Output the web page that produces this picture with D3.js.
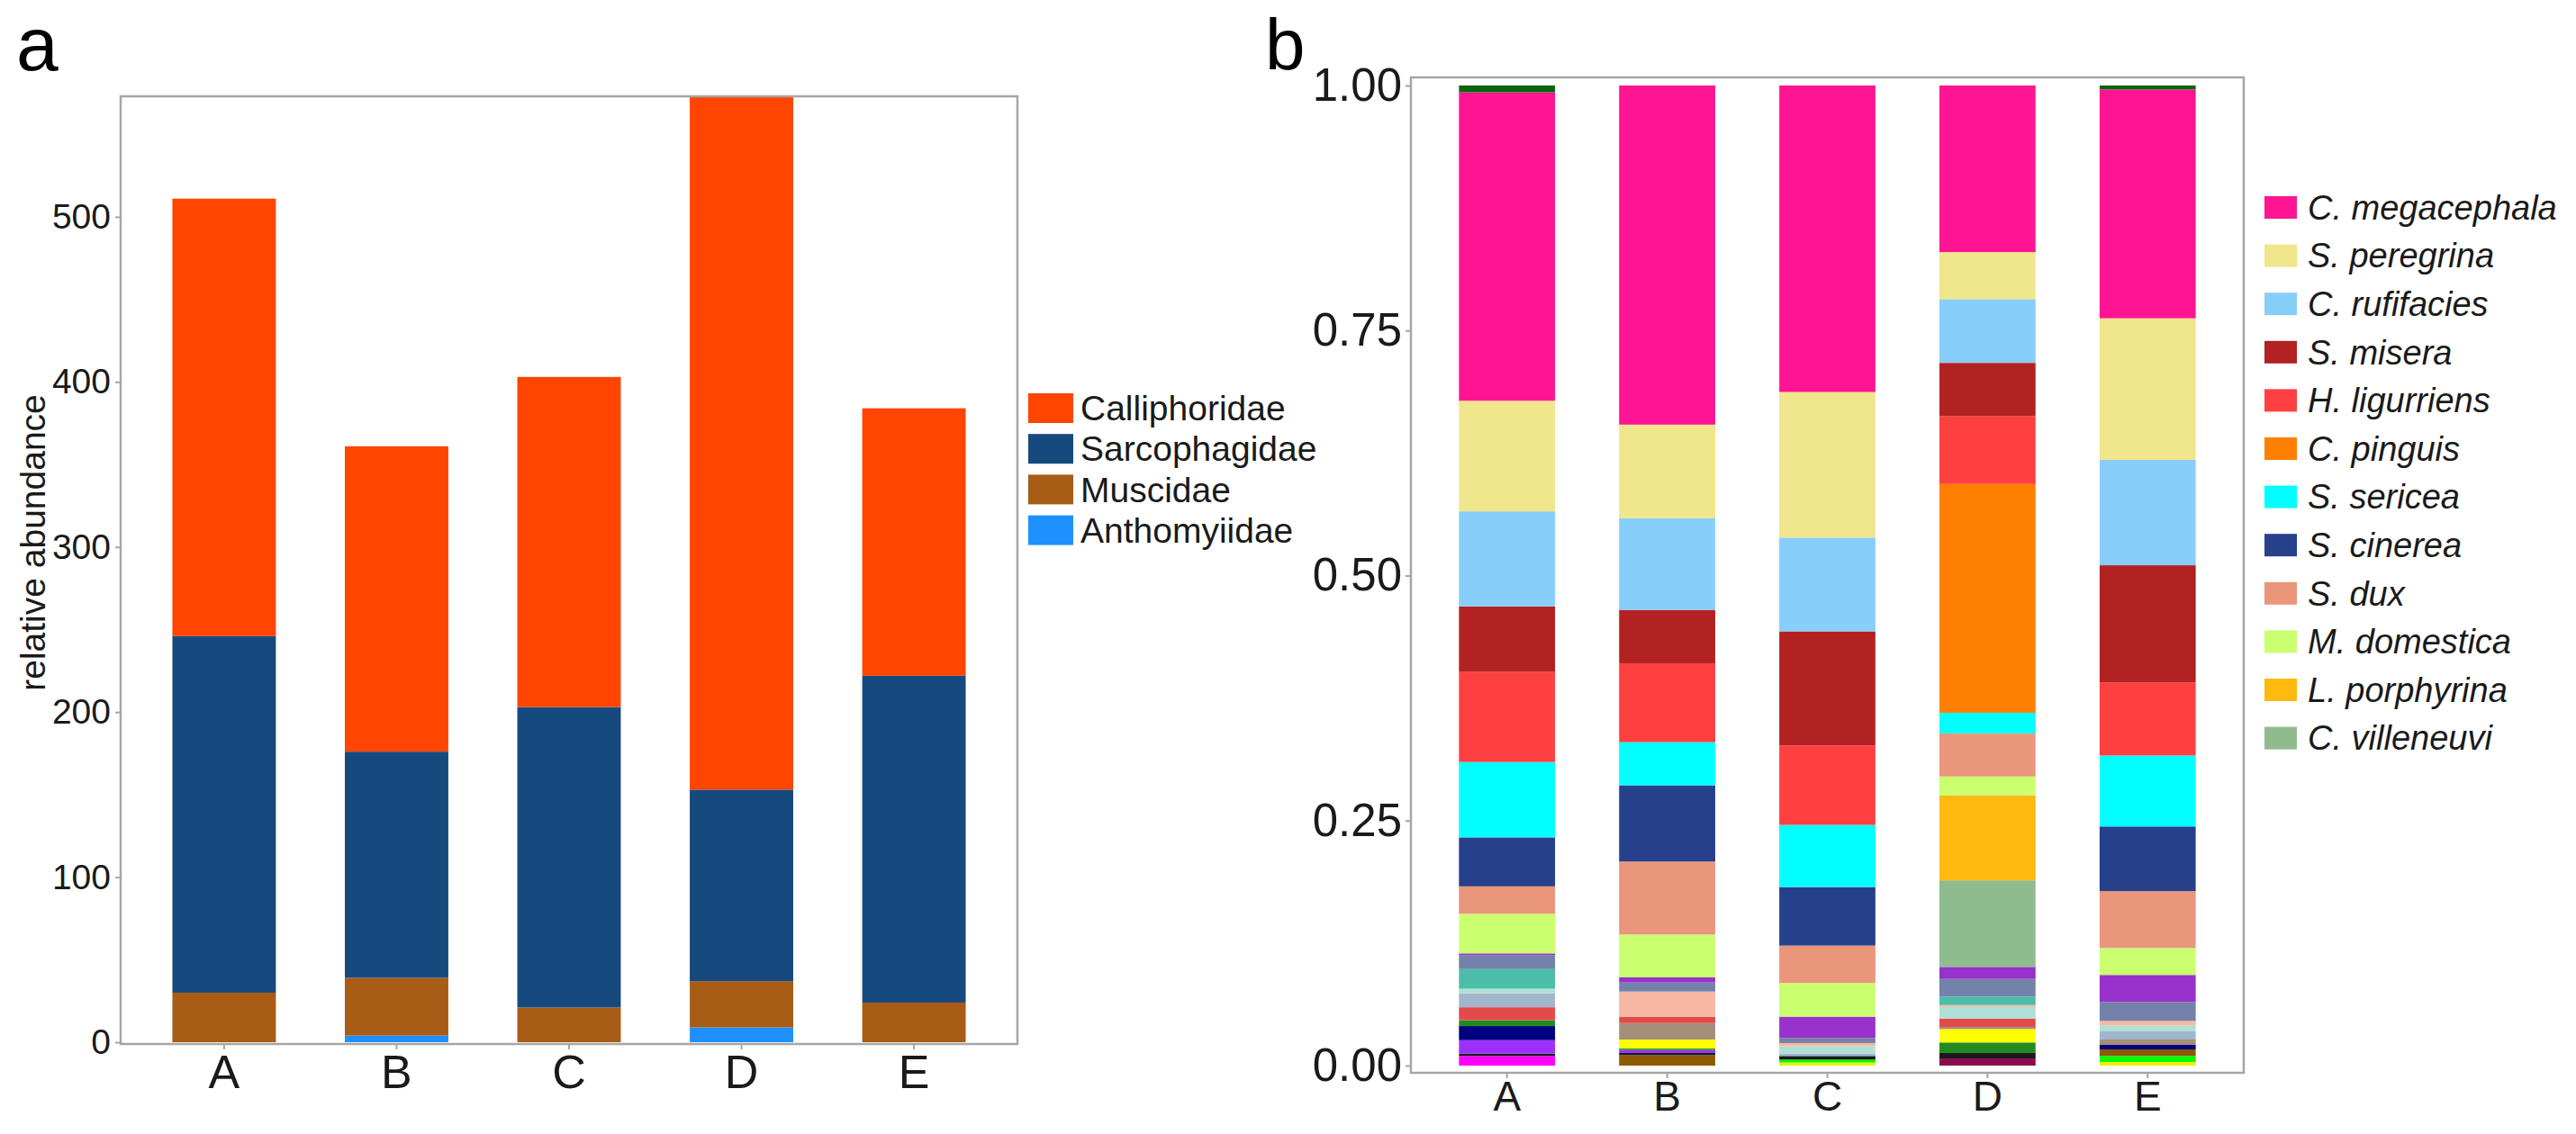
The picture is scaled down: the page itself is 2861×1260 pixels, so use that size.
<!DOCTYPE html>
<html>
<head>
<meta charset="utf-8">
<script src="https://cdn.jsdelivr.net/npm/d3@7"></script>
<style>
  body { margin: 0; background: #fff; }
  text { font-family: 'Liberation Sans', Arial, sans-serif; }
</style>
</head>
<body>
<script>
// panel a: family abundance per site
const sites = ['A', 'B', 'C', 'D', 'E']
const families = ['Calliphoridae', 'Sarcophagidae', 'Muscidae', 'Anthomyiidae']
const calliphoridae = [265, 185, 200, 420, 162]
const sarcophagidae = [216, 137, 182, 116, 198]
const muscidae = [30, 35, 21, 28, 24]
const anthomyiidae = [0, 4, 0, 9, 0]
const familyColors = ['#FF4500', '#164A7E', '#A85C15', '#1E90FF']
const abundanceTicks = [0, 100, 200, 300, 400, 500]

// panel b: species proportions, top of the stack first
const species = ['other 1', 'C. megacephala', 'S. peregrina', 'C. rufifacies', 'S. misera', 'H. ligurriens',
  'C. pinguis', 'S. sericea', 'S. cinerea', 'S. dux', 'M. domestica', 'L. porphyrina', 'C. villeneuvi',
  'other 2', 'other 3', 'other 4', 'other 5', 'other 6', 'other 7', 'other 8', 'other 9', 'other 10',
  'other 11', 'other 12', 'other 13', 'other 14', 'other 15', 'other 16', 'other 17', 'other 18', 'other 19']
const speciesColors = ['#0B650B', '#FF1493', '#F0E68C', '#87CEFA', '#B22222', '#FF4040',
  '#FF7F00', '#00FFFF', '#27408B', '#E9967A', '#CAFF70', '#FFB90F', '#8FBC8F',
  '#9932CC', '#7282A8', '#4BBDA8', '#F6B8A2', '#B0E0D6', '#A2B5CD', '#E34A4A', '#A48F7B', '#FFFF00',
  '#228B22', '#000080', '#9B30FF', '#1A1A1A', '#8B0A50', '#8B5A00', '#FF00FF', '#00FF00', '#EEEE00']
const legendSpecies = species.slice(1, 13)
const siteA = [0.007, 0.315, 0.113, 0.097, 0.067, 0.092, 0, 0.077, 0.050, 0.028, 0.0405, 0, 0,
  0.002, 0.014, 0.020, 0, 0.0046, 0.0144, 0.0132, 0, 0, 0.006, 0.0144, 0.0138, 0.0024, 0, 0, 0.0098, 0, 0]
const siteB = [0, 0.346, 0.0954, 0.0936, 0.0545, 0.0805, 0, 0.044, 0.0778, 0.0744, 0.0438, 0, 0,
  0.0052, 0.0092, 0, 0.026, 0, 0, 0.0062, 0.0168, 0.0092, 0.0015, 0, 0.003, 0.0022, 0, 0.0107, 0, 0, 0]
const siteC = [0, 0.3125, 0.1485, 0.0956, 0.1164, 0.081, 0, 0.0633, 0.0597, 0.0382, 0.0343, 0, 0,
  0.0217, 0.0052, 0, 0.0031, 0.0076, 0.0025, 0, 0, 0, 0, 0, 0, 0.0037, 0, 0, 0, 0.003, 0.0031]
const siteD = [0, 0.170, 0.048, 0.065, 0.0545, 0.0691, 0.2334, 0.021, 0, 0.044, 0.0193, 0.0867, 0.0883,
  0.0123, 0.018, 0.0086, 0.002, 0.0118, 0, 0.0085, 0.0022, 0.0137, 0.0107, 0, 0, 0.0056, 0.0073, 0, 0, 0, 0]
const siteE = [0.004, 0.2335, 0.1445, 0.1075, 0.1195, 0.0746, 0, 0.0724, 0.066, 0.058, 0.0275, 0, 0,
  0.0276, 0.0193, 0, 0.0046, 0.0061, 0.0083, 0, 0.0055, 0, 0, 0.0046, 0, 0, 0, 0.0067, 0, 0.0061, 0.0037]
const proportionTicks = [0, 0.25, 0.5, 0.75, 1]

const config = {
  width: 2861,
  height: 1260,
  textColor: '#1a1a1a',
  frameColor: '#a6a6a6',
  a: { left: 134, right: 1130, top: 107, bottom: 1160, zero: 1158 },
  b: { left: 1567, right: 2492, top: 86, bottom: 1192, zero: 1184, one: 95 }
}

const root = d3.select('body')
  .append('svg')
  .attr('width', config.width)
  .attr('height', config.height)
  .style('display', 'block')

// ---------- panel a ----------
const familyRows = sites.map((s, i) => ({
  site: s,
  Calliphoridae: calliphoridae[i],
  Sarcophagidae: sarcophagidae[i],
  Muscidae: muscidae[i],
  Anthomyiidae: anthomyiidae[i]
}))
const familyColor = d3.scaleOrdinal().domain(families).range(familyColors)
// bottom of the stack first
const familyStack = d3.stack().keys(families.slice().reverse())(familyRows)
const maxTotal = d3.max(familyRows, d => d.Calliphoridae + d.Sarcophagidae + d.Muscidae + d.Anthomyiidae)

const xA = d3.scaleBand().domain(sites).range([config.a.left, config.a.right]).paddingInner(0.4).paddingOuter(0.3)
const yA = d3.scaleLinear().domain([0, maxTotal]).range([config.a.zero, config.a.top])

const panelA = root.append('g')
panelA.selectAll('.family')
  .data(familyStack).enter().append('g')
  .attr('fill', d => familyColor(d.key))
  .selectAll('rect')
  .data(d => d).enter().append('rect')
  .attr('x', d => xA(d.data.site))
  .attr('width', xA.bandwidth())
  .attr('y', d => yA(d[1]))
  .attr('height', d => yA(d[0]) - yA(d[1]))

panelA.append('rect')
  .attr('x', config.a.left).attr('y', config.a.top)
  .attr('width', config.a.right - config.a.left)
  .attr('height', config.a.bottom - config.a.top)
  .attr('fill', 'none').attr('stroke', config.frameColor).attr('stroke-width', 2.5)

const yAxisA = panelA.append('g')
  .attr('transform', `translate(${config.a.left},0)`)
  .call(d3.axisLeft(yA).tickValues(abundanceTicks).tickSize(6).tickPadding(5))
const xAxisA = panelA.append('g')
  .attr('transform', `translate(0,${config.a.bottom})`)
  .call(d3.axisBottom(xA).tickSize(6).tickPadding(6))
;[yAxisA, xAxisA].forEach(ax => {
  ax.select('.domain').remove()
  ax.selectAll('.tick line').attr('stroke', config.frameColor).attr('stroke-width', 2)
  ax.selectAll('.tick text').attr('fill', config.textColor).style('font-family', "'Liberation Sans', Arial, sans-serif")
})
yAxisA.selectAll('.tick text').style('font-size', '39px')
xAxisA.selectAll('.tick text').style('font-size', '52px')

panelA.append('text')
  .attr('transform', 'translate(50,603) rotate(-90)')
  .attr('text-anchor', 'middle')
  .attr('fill', config.textColor)
  .style('font-size', '39px')
  .text('relative abundance')

const legendA = panelA.append('g').attr('transform', 'translate(1142,437)')
const legendARows = legendA.selectAll('g')
  .data(families).enter().append('g')
  .attr('transform', (d, i) => `translate(0,${i * 45.2})`)
legendARows.append('rect')
  .attr('width', 50).attr('height', 33)
  .attr('fill', d => familyColor(d))
legendARows.append('text')
  .attr('x', 58).attr('y', 16.5).attr('dy', '0.35em')
  .attr('fill', config.textColor)
  .style('font-size', '39px')
  .text(d => d)

root.append('text')
  .attr('x', 18).attr('y', 78)
  .attr('fill', '#000')
  .style('font-size', '84px')
  .text('a')

// ---------- panel b ----------
const siteValues = [siteA, siteB, siteC, siteD, siteE]
const speciesRows = sites.map((s, i) => {
  const row = { site: s }
  species.forEach((sp, j) => { row[sp] = siteValues[i][j] })
  return row
})
const speciesColor = d3.scaleOrdinal().domain(species).range(speciesColors)
const speciesStack = d3.stack()
  .keys(species.slice().reverse())
  .offset(d3.stackOffsetExpand)(speciesRows)

const xB = d3.scaleBand().domain(sites).range([config.b.left, config.b.right]).paddingInner(0.4).paddingOuter(0.3)
const yB = d3.scaleLinear().domain([0, 1]).range([config.b.zero, config.b.one])

const panelB = root.append('g')
panelB.selectAll('.species')
  .data(speciesStack).enter().append('g')
  .attr('fill', d => speciesColor(d.key))
  .selectAll('rect')
  .data(d => d).enter().append('rect')
  .attr('x', d => xB(d.data.site))
  .attr('width', xB.bandwidth())
  .attr('y', d => yB(d[1]))
  .attr('height', d => yB(d[0]) - yB(d[1]))

panelB.append('rect')
  .attr('x', config.b.left).attr('y', config.b.top)
  .attr('width', config.b.right - config.b.left)
  .attr('height', config.b.bottom - config.b.top)
  .attr('fill', 'none').attr('stroke', config.frameColor).attr('stroke-width', 2.5)

const yAxisB = panelB.append('g')
  .attr('transform', `translate(${config.b.left},0)`)
  .call(d3.axisLeft(yB).tickValues(proportionTicks).tickFormat(d3.format('.2f')).tickSize(6).tickPadding(4))
const xAxisB = panelB.append('g')
  .attr('transform', `translate(0,${config.b.bottom})`)
  .call(d3.axisBottom(xB).tickSize(6).tickPadding(3))
;[yAxisB, xAxisB].forEach(ax => {
  ax.select('.domain').remove()
  ax.selectAll('.tick line').attr('stroke', config.frameColor).attr('stroke-width', 2)
  ax.selectAll('.tick text').attr('fill', config.textColor).style('font-family', "'Liberation Sans', Arial, sans-serif")
})
yAxisB.selectAll('.tick text').style('font-size', '51px')
xAxisB.selectAll('.tick text').style('font-size', '46px')

const legendB = panelB.append('g').attr('transform', 'translate(2515,218)')
const legendBRows = legendB.selectAll('g')
  .data(legendSpecies).enter().append('g')
  .attr('transform', (d, i) => `translate(0,${i * 53.6})`)
legendBRows.append('rect')
  .attr('width', 36).attr('height', 25)
  .attr('fill', d => speciesColor(d))
legendBRows.append('text')
  .attr('x', 48).attr('y', 12.5).attr('dy', '0.35em')
  .attr('fill', config.textColor)
  .style('font-size', '38px')
  .style('font-style', 'italic')
  .text(d => d)

root.append('text')
  .attr('x', 1405).attr('y', 77)
  .attr('fill', '#000')
  .style('font-size', '80px')
  .text('b')
</script>
</body>
</html>
